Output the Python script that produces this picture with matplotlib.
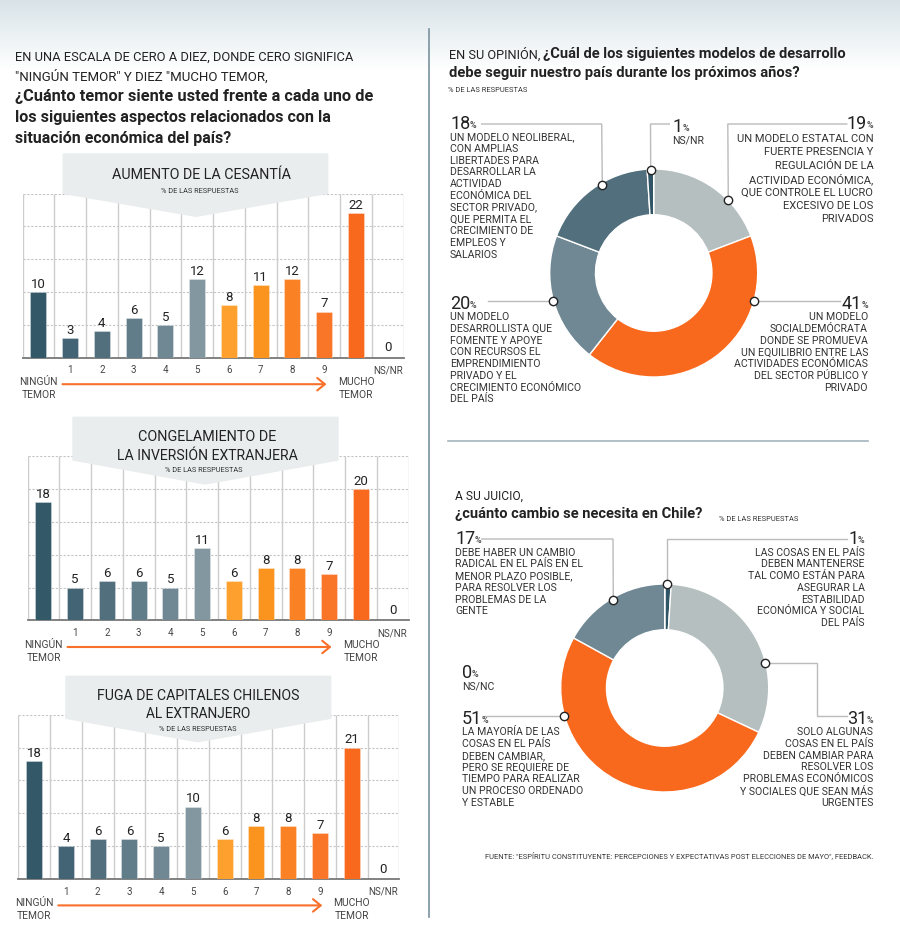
# encoding utf-8
import numpy as np
import matplotlib
matplotlib.use('Agg')
import matplotlib.pyplot as plt

W, H = 900, 953
FONT = 'Roboto'

# datos de los graficos de barras
categorias = ['', '1', '2', '3', '4', '5', '6', '7', '8', '9', '', 'NS/NR']
cesantia = [10, 3, 4, 6, 5, 12, 8, 11, 12, 7, 22, 0]
inversion = [18, 5, 6, 6, 5, 11, 6, 8, 8, 7, 20, 0]
capitales = [18, 4, 6, 6, 5, 10, 6, 8, 8, 7, 21, 0]
# en el original las barras de este grafico no coinciden con sus etiquetas
capitales_alto = [18, 5, 6, 6, 5, 11, 6, 8, 8, 7, 20, 0]
colores_barras = ['#335868', '#436475', '#526f7d', '#617d8a', '#708894', '#82979f',
                  '#fda02e', '#fb931f', '#fb8224', '#f97528', '#f8691e', '#f8691e']

# datos de las donas
modelos = [19, 41, 20, 18, 1]
colores_modelos = ['#b5bfc0', '#f8691e', '#6f8894', '#526f7d', '#2f5566']
cambio = [1, 31, 51, 17, 0]
colores_cambio = ['#2f5566', '#b5bfc0', '#f8691e', '#6f8894', '#dddddd']

fig = plt.figure(figsize=(W / 100, H / 100), dpi=100, facecolor='white')


def axes_px(x0, y0, x1, y1, zorder):
    ax = fig.add_axes([x0 / W, 1 - y1 / H, (x1 - x0) / W, (y1 - y0) / H], zorder=zorder)
    ax.patch.set_alpha(0)
    return ax


# fondo degradado superior
bg = axes_px(0, 0, 900, 72, 0)
bg.imshow(np.linspace(0, 1, 72).reshape(-1, 1), aspect='auto', vmin=0, vmax=1,
          cmap=matplotlib.colors.LinearSegmentedColormap.from_list('g', ['#d8e3e8', '#ffffff']))
bg.axis('off')

# capa de textos y anotaciones en pixeles
top = axes_px(0, 0, 900, 953, 5)
top.set_xlim(0, 900)
top.set_ylim(953, 0)
top.axis('off')
renderer = fig.canvas.get_renderer()
inv = top.transData.inverted()


def texto(x, y, s, size=8, weight='normal', ha='left', color='#222222', ancho=None):
    t = top.text(x, y, s, fontsize=size, family=FONT, weight=weight, ha=ha, va='center', color=color)
    if ancho:
        # ajusta el cuerpo hasta el ancho medido en la referencia
        t.set_fontsize(size * ancho / t.get_window_extent(renderer).width)
    return t


def lineas(x, y, rows, ha='left', step=11.73, size=7.6):
    for i, row in enumerate(rows):
        texto(x, y + i * step, row, size=size, ha=ha, color='#333333')


def porcentaje(x, y, valor, ha='left'):
    # numero grande y signo % chico
    if ha == 'left':
        t = texto(x, y, valor, size=13)
        x1 = inv.transform(t.get_window_extent(renderer))[1][0]
        texto(x1 - 0.5, y + 1.5, '%', size=6.5, weight='bold', color='#555555')
    else:
        t = texto(x, y + 1.5, '%', size=6.5, weight='bold', ha='right', color='#555555')
        x0 = inv.transform(t.get_window_extent(renderer))[0][0]
        texto(x0 + 0.5, y, valor, size=13, ha='right')


def guia(puntos):
    xs, ys = zip(*puntos)
    top.plot(xs, ys, color='#bbbbbb', lw=1, solid_joinstyle='miter', zorder=2)
    top.plot(xs[-1], ys[-1], 'o', ms=6, mfc='white', mec='#222222', mew=1, zorder=3)


def barras(left, base, valores, altos, titulo, anchos, tcx, tys, sub_xy, cinta):
    width = 381
    ax = axes_px(left, base - 164, left + width, base, 1)
    x = np.arange(len(valores))
    ax.set_xlim(-0.5, 11.5)
    ax.set_ylim(0, 25)
    ax.vlines(np.arange(-0.5, 12), 0, 25, color='#cccccc', lw=1, zorder=1)
    ax.set_yticks([5, 10, 15, 20, 25])
    ax.set_yticklabels([])
    ax.yaxis.grid(True, ls=(0, (2, 1.5)), color='#c4c4c4', lw=0.8, zorder=1)
    ax.set_axisbelow(True)
    ax.tick_params(axis='y', length=0)
    ax.set_xticks(x)
    ax.set_xticklabels(categorias, fontsize=7, family=FONT, color='#444444')
    ax.tick_params(axis='x', length=0, pad=5)
    for s in ['top', 'left', 'right']:
        ax.spines[s].set_visible(False)
    ax.spines['bottom'].set_color('#777777')
    ax.spines['bottom'].set_linewidth(1.3)
    ax.bar(x, altos, width=0.5, color=colores_barras, edgecolor=(1, 1, 1, 0.35), linewidth=0.6, zorder=3)
    for i, v in enumerate(valores):
        ax.annotate(str(v), (i, altos[i]), xytext=(0, 1.5 if altos[i] else 3), textcoords='offset points',
                    ha='center', va='bottom', fontsize=9.5, family=FONT, color='#222222',
                    annotation_clip=False)

    # cinta con el titulo
    x0, x1, y0, y1, y2, xa = cinta
    top.fill([x0, x1, x1, xa, x0], [y0, y0, y1, y2, y1], color='#e9eded', zorder=1)
    for row, ty, w in zip(titulo, tys, anchos):
        texto(tcx, ty, row, size=11, ha='center', ancho=w)
    texto(sub_xy[0], sub_xy[1], '% DE LAS RESPUESTAS', size=5, ha='center', color='#333333', ancho=79)

    # flecha y extremos de la escala
    ay = base + 26.7
    top.annotate('', xy=(left + 304, ay), xytext=(left + 40, ay),
                 arrowprops=dict(arrowstyle='->,head_length=0.55,head_width=0.45', color='#f8702a', lw=1.5,
                                 shrinkA=0, shrinkB=0))
    for cx, rows in [(left + 16, ['NINGÚN', 'TEMOR']), (left + 333.5, ['MUCHO', 'TEMOR'])]:
        texto(cx, base + 23.3, rows[0], size=7.4, ha='center', color='#444444')
        texto(cx, base + 36.3, rows[1], size=7.4, ha='center', color='#444444')


def dona(cx, cy, valores, colores):
    r = 104
    ax = axes_px(cx - r, cy - r, cx + r, cy + r, 1)
    ax.pie(valores, colors=colores, startangle=90, counterclock=False, radius=1,
           wedgeprops=dict(width=0.44, edgecolor='white', linewidth=1))
    ax.set_xlim(-1, 1)
    ax.set_ylim(-1, 1)


# encabezado izquierdo
texto(15, 57.7, 'EN UNA ESCALA DE CERO A DIEZ, DONDE CERO SIGNIFICA', size=9, ancho=337)
texto(15, 76.3, '"NINGÚN TEMOR" Y DIEZ "MUCHO TEMOR,', size=9, ancho=252)
texto(15, 96.7, '¿Cuánto temor siente usted frente a cada uno de', size=11, weight='bold', ancho=357)
texto(15, 117.7, 'los siguientes aspectos relacionados con la', size=11, weight='bold', ancho=316)
texto(15, 138.3, 'situación económica del país?', size=11, weight='bold', ancho=217)

barras(22.5, 358.5, cesantia, cesantia, ['AUMENTO DE LA CESANTÍA'], [179], 202, [175], (199.5, 191.7),
       (63.3, 327.7, 155, 194.3, 217.3, 196))
barras(27.5, 621.3, inversion, inversion, ['CONGELAMIENTO DE', 'LA INVERSIÓN EXTRANJERA'], [139, 181], 207,
       [437, 455.7], (204, 470.7), (73, 338, 418.3, 461, 485, 205))
barras(18.3, 879.7, capitales, capitales_alto, ['FUGA DE CAPITALES CHILENOS', 'AL EXTRANJERO'], [201.7, 105], 198.5,
       [695.7, 714], (197.3, 729.3), (66, 330.7, 677.3, 719.3, 742.7, 198))

# separadores
top.plot([428.5, 428.5], [30, 918], color='#7a929f', lw=1.2)
top.plot([448, 868], [442, 442], color='#a3b5bc', lw=1.2)

# encabezado derecho
texto(449.3, 54.3, 'EN SU OPINIÓN,', size=9, ancho=92)
texto(543.3, 54.3, '¿Cuál de los siguientes modelos de desarrollo', size=11, weight='bold', ancho=303)
texto(449.3, 72.7, 'debe seguir nuestro país durante los próximos años?', size=11, weight='bold', ancho=352)
texto(448.3, 90, '% DE LAS RESPUESTAS', size=5, color='#333333', ancho=80)

dona(653.7, 274, modelos, colores_modelos)
guia([(481.7, 125), (601.7, 125), (602.3, 185.7)])
guia([(669.3, 125), (650.5, 125), (650.7, 170.7)])
guia([(846.7, 125), (727.8, 125), (728.3, 201.3)])
guia([(488.3, 302), (553.3, 302)])
guia([(840, 302), (754.3, 302)])

porcentaje(450, 124.3, '18')
lineas(450, 137.3, ['UN MODELO NEOLIBERAL,', 'CON AMPLIAS', 'LIBERTADES PARA', 'DESARROLLAR LA', 'ACTIVIDAD',
                    'ECONÓMICA DEL', 'SECTOR PRIVADO,', 'QUE PERMITA EL', 'CRECIMIENTO DE', 'EMPLEOS Y', 'SALARIOS'])
porcentaje(672.7, 126.7, '1')
lineas(672, 140, ['NS/NR'])
porcentaje(873.3, 124.3, '19', ha='right')
lineas(873.3, 139, ['UN MODELO ESTATAL CON', 'FUERTE PRESENCIA Y', 'REGULACIÓN DE LA', 'ACTIVIDAD ECONÓMICA,',
                    'QUE CONTROLE EL LUCRO', 'EXCESIVO DE LOS', 'PRIVADOS'], ha='right', step=13.35, size=8)
porcentaje(450, 304, '20')
lineas(450, 317.3, ['UN MODELO', 'DESARROLLISTA QUE', 'FOMENTE Y APOYE', 'CON RECURSOS EL', 'EMPRENDIMIENTO',
                    'PRIVADO Y EL', 'CRECIMIENTO ECONÓMICO', 'DEL PAÍS'])
porcentaje(868, 304, '41', ha='right')
lineas(868, 317.3, ['UN MODELO', 'SOCIALDEMÓCRATA', 'DONDE SE PROMUEVA', 'UN EQUILIBRIO ENTRE LAS',
                    'ACTIVIDADES ECONÓMICAS', 'DEL SECTOR PÚBLICO Y', 'PRIVADO'], ha='right')

# segunda dona
texto(455, 496, 'A SU JUICIO,', size=9, ancho=68)
texto(455, 514, '¿cuánto cambio se necesita en Chile?', size=11, weight='bold', ancho=246)
texto(719.3, 518.7, '% DE LAS RESPUESTAS', size=5, color='#333333', ancho=80)

dona(664.7, 689, cambio, colores_cambio)
guia([(481.7, 540), (613, 540), (613.3, 600.7)])
guia([(846.7, 540), (667.3, 540), (667.3, 585.3)])
guia([(846.7, 716.7), (817.3, 716.7), (817.3, 664), (765.3, 664)])
guia([(485, 717), (564.3, 717)])

porcentaje(455.3, 539.3, '17')
lineas(455.3, 552.7, ['DEBE HABER UN CAMBIO', 'RADICAL EN EL PAÍS EN EL', 'MENOR PLAZO POSIBLE,', 'PARA RESOLVER LOS',
                      'PROBLEMAS DE LA', 'GENTE'])
porcentaje(864.7, 539.3, '1', ha='right')
lineas(864.7, 552.7, ['LAS COSAS EN EL PAÍS', 'DEBEN MANTENERSE', 'TAL COMO ESTÁN PARA', 'ASEGURAR LA', 'ESTABILIDAD',
                      'ECONÓMICA Y SOCIAL', 'DEL PAÍS'], ha='right')
porcentaje(462, 673.3, '0')
lineas(462, 687, ['NS/NC'])
porcentaje(462, 718.7, '51')
lineas(462, 732.3, ['LA MAYORÍA DE LAS', 'COSAS EN EL PAÍS', 'DEBEN CAMBIAR,', 'PERO SE REQUIERE DE', 'TIEMPO PARA REALIZAR',
                    'UN PROCESO ORDENADO', 'Y ESTABLE'])
porcentaje(873.3, 718.7, '31', ha='right')
lineas(873.3, 732.3, ['SOLO ALGUNAS', 'COSAS EN EL PAÍS', 'DEBEN CAMBIAR PARA', 'RESOLVER LOS', 'PROBLEMAS ECONÓMICOS',
                      'Y SOCIALES QUE SEAN MÁS', 'URGENTES'], ha='right')

texto(873.3, 856.7, 'FUENTE: "ESPÍRITU CONSTITUYENTE: PERCEPCIONES Y EXPECTATIVAS POST ELECCIONES DE MAYO", FEEDBACK.',
      size=5, ha='right', color='#333333', ancho=391.6)

fig.savefig('out.png', dpi=100)
